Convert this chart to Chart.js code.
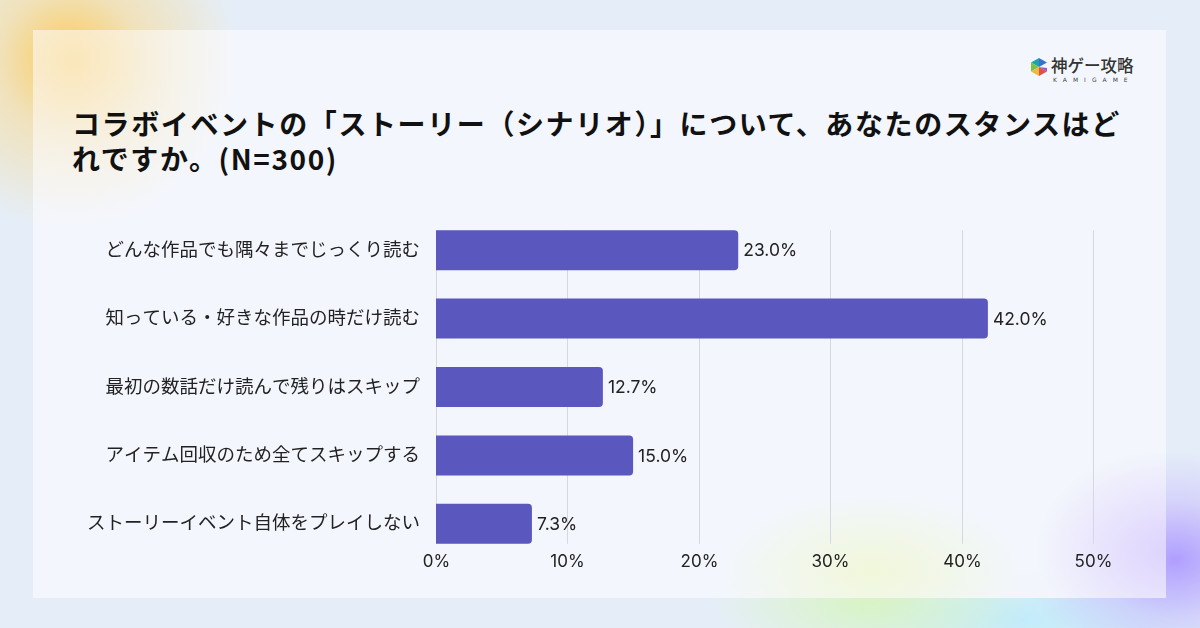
<!DOCTYPE html>
<html>
<head>
<meta charset="utf-8">
<script src="https://cdn.jsdelivr.net/npm/chart.js@4.4.0/dist/chart.umd.min.js"></script>
<style>
  html, body { margin: 0; padding: 0; }
  body {
    width: 1200px; height: 628px; overflow: hidden; position: relative;
    background:
      radial-gradient(circle at 70px 60px, rgba(255,196,60,0.85) 0, rgba(255,210,110,0.45) 70px, rgba(255,230,170,0) 170px),
      radial-gradient(ellipse 150px 110px at 1175px 560px, rgba(170,150,255,0.9) 0, rgba(190,170,255,0.4) 80px, rgba(200,190,255,0) 150px),
      radial-gradient(ellipse 200px 90px at 870px 600px, rgba(215,245,190,0.9) 0, rgba(220,245,210,0) 160px),
      radial-gradient(ellipse 220px 80px at 1020px 620px, rgba(190,235,250,0.9) 0, rgba(200,240,250,0) 200px),
      #e5eef8;
  }
  .card {
    position: absolute; left: 33px; top: 30px; width: 1133px; height: 568px;
    background:
      radial-gradient(circle at 40px 30px, rgba(255,220,140,0.55) 0, rgba(255,230,170,0.25) 90px, rgba(255,240,200,0) 160px),
      radial-gradient(ellipse 130px 100px at 1133px 520px, rgba(215,200,255,0.7) 0, rgba(225,215,255,0) 130px),
      radial-gradient(ellipse 180px 90px at 840px 540px, rgba(240,248,215,0.9) 0, rgba(240,248,220,0) 150px),
      rgba(244,246,252,0.93);
  }
  .title {
    position: absolute; left: 72px; top: 106px;
    font-family: "Noto Sans CJK JP", sans-serif; font-weight: 700;
    font-size: 28px; line-height: 35px; letter-spacing: 1.6px; color: #111;
    white-space: nowrap;
  }
  .logo { position: absolute; left: 1029px; top: 57px; }
  .logo .name {
    position: absolute; left: 22px; top: -4px; white-space: nowrap;
    font-family: "Noto Sans CJK JP", sans-serif; font-weight: 500; font-size: 16.5px; color: #333;
  }
  .logo .sub {
    position: absolute; left: 24px; top: 19px; white-space: nowrap;
    font-family: "DejaVu Sans", sans-serif; font-size: 6px; letter-spacing: 6px; color: #444;
  }
  canvas { position: absolute; left: 0; top: 0; }
</style>
</head>
<body>
<div class="card"></div>
<div class="logo">
  <svg width="20" height="20" viewBox="0 0 20 20">
    <polygon points="10,1 2,5.5 10,10" fill="#1aa6a8"/>
    <polygon points="10,1 18,5.5 10,10" fill="#3b6fd1"/>
    <polygon points="2,5.5 2,14.5 10,10" fill="#7cc04a"/>
    <polygon points="2,14.5 10,19 10,10" fill="#f1b93b"/>
    <polygon points="10,19 18,14.5 10,10" fill="#e2504c"/>
    <polygon points="18,14.5 18,11 10,10" fill="#9b59c4"/>
  </svg>
  <div class="name">神ゲー攻略</div>
  <div class="sub">KAMIGAME</div>
</div>
<div class="title">コラボイベントの「ストーリー（シナリオ）」について、あなたのスタンスはど<br>れですか。(N=300)</div>
<canvas id="myChart" width="1200" height="628"></canvas>
<script>
const categories = [
  'どんな作品でも隅々までじっくり読む',
  '知っている・好きな作品の時だけ読む',
  '最初の数話だけ読んで残りはスキップ',
  'アイテム回収のため全てスキップする',
  'ストーリーイベント自体をプレイしない'
];
const values = [23.0, 42.0, 12.7, 15.0, 7.3];
const tickValues = [0, 10, 20, 30, 40, 50];

const fontFamily = "Inter, 'Noto Sans CJK JP', sans-serif";

// vertical gridlines + x tick labels, gridlines only span the bars
const shortGrid = {
  id: 'shortGrid',
  beforeDatasetsDraw(chart) {
    const c = chart.ctx;
    const x = chart.scales.x;
    const bars = chart.getDatasetMeta(0).data;
    const top = bars[0].y - bars[0].height / 2;
    const bottom = bars[bars.length - 1].y + bars[bars.length - 1].height / 2;
    c.save();
    c.strokeStyle = '#d6d8df';
    c.lineWidth = 1;
    c.font = '17px ' + fontFamily;
    c.fillStyle = '#222';
    c.textAlign = 'center';
    c.textBaseline = 'middle';
    tickValues.forEach(v => {
      const px = Math.round(x.getPixelForValue(v)) + 0.5;
      c.beginPath();
      c.moveTo(px, top);
      c.lineTo(px, bottom);
      c.stroke();
      c.fillText(v + '%', px, bottom + 18);
    });
    c.restore();
  }
};

// value labels at the end of each bar
const valueLabels = {
  id: 'valueLabels',
  afterDatasetsDraw(chart) {
    const c = chart.ctx;
    const meta = chart.getDatasetMeta(0);
    c.save();
    c.font = '17.5px ' + fontFamily;
    c.fillStyle = '#222';
    c.textAlign = 'left';
    c.textBaseline = 'middle';
    meta.data.forEach((bar, i) => {
      c.fillText(values[i].toFixed(1) + '%', bar.x + 5, bar.y + 1);
    });
    c.restore();
  }
};

let ctx = document.getElementById("myChart");
let myChart = new Chart(ctx, {
  type: 'bar',
  data: {
    labels: categories,
    datasets: [{
      data: values,
      backgroundColor: '#5a57be',
      borderRadius: 4,
      categoryPercentage: 1,
      barPercentage: 0.585
    }]
  },
  plugins: [shortGrid, valueLabels],
  options: {
    indexAxis: 'y',
    responsive: false,
    animation: false,
    layout: { padding: { left: 0, right: 107, top: 216, bottom: 0 } },
    plugins: {
      legend: { display: false },
      tooltip: { enabled: false }
    },
    scales: {
      x: {
        min: 0,
        max: 50,
        afterFit(scale) { scale.height = 70; },
        afterBuildTicks(scale) { scale.ticks = tickValues.map(v => ({ value: v })); },
        grid: { display: false, drawTicks: false },
        border: { display: false },
        ticks: { display: false }
      },
      y: {
        afterFit(scale) { scale.width = 436; },
        grid: { display: false, drawTicks: false },
        border: { display: false },
        ticks: {
          padding: 16,
          color: '#222',
          font: { size: 18.5, family: fontFamily }
        }
      }
    }
  }
});
</script>
</body>
</html>
